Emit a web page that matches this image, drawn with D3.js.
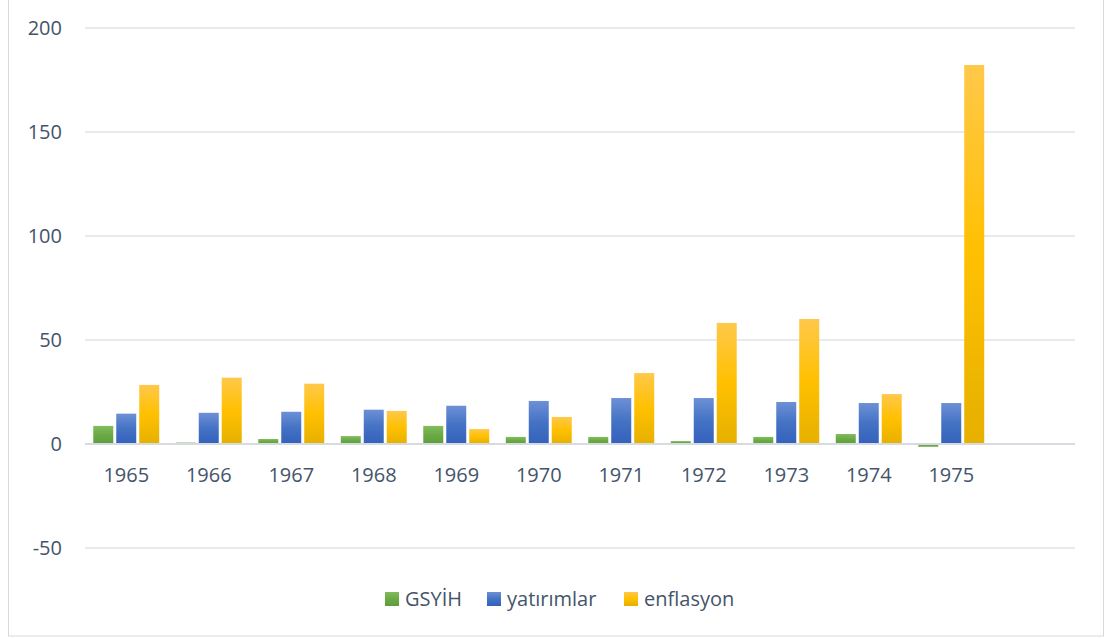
<!DOCTYPE html>
<html>
<head>
<meta charset="utf-8">
<script src="https://cdn.jsdelivr.net/npm/d3@7"></script>
<style>
  body { margin: 0; background: #fff; }
  text { font-family: "Open Sans", "Noto Sans", sans-serif; fill: #44546a; }
</style>
</head>
<body>
<svg id="chart" width="1105" height="638"></svg>
<script>
let years = ["1965", "1966", "1967", "1968", "1969", "1970", "1971", "1972", "1973", "1974", "1975", ""];
let seriesNames = ["GSYİH", "yatırımlar", "enflasyon"];
let gsyih = [8.7, 0.7, 2.4, 3.8, 8.7, 3.4, 3.4, 1.4, 3.4, 4.8, -1.3];
let yatirimlar = [14.6, 15.0, 15.5, 16.5, 18.4, 20.7, 22.1, 22.1, 20.2, 19.7, 19.7];
let enflasyon = [28.4, 31.9, 29.0, 15.9, 7.2, 13.0, 34.1, 58.2, 60.1, 24.0, 182.2];
let yTicks = [-50, 0, 50, 100, 150, 200];

let width = 1105;
let height = 638;
let colors = {
  "GSYİH": ["#82bd5c", "#6aaa45", "#5f9e3a"],
  "yatırımlar": ["#6d90d6", "#4472c4", "#3461bb"],
  "enflasyon": ["#ffc84a", "#ffc000", "#e6b000"]
};
let seriesData = [gsyih, yatirimlar, enflasyon];

let svg = d3.select("#chart");

// chart border
svg.append("rect")
   .attr("x", 8.5).attr("y", -5)
   .attr("width", 1095).attr("height", 641)
   .attr("fill", "#fff")
   .attr("stroke", "#d9d9d9");

let defs = svg.append("defs");
seriesNames.forEach(function(s, i){
  let g = defs.append("linearGradient")
              .attr("id", "grad" + i)
              .attr("x1", 0).attr("y1", 0).attr("x2", 0).attr("y2", 1);
  g.append("stop").attr("offset", "0%").attr("stop-color", colors[s][0]);
  g.append("stop").attr("offset", "50%").attr("stop-color", colors[s][1]);
  g.append("stop").attr("offset", "100%").attr("stop-color", colors[s][2]);
});

let x0 = d3.scaleBand().domain(years).range([85, 1075]);
let x1 = d3.scaleBand().domain(seriesNames).range([0, x0.bandwidth()])
           .paddingInner(0.13).paddingOuter(0.36);
let y = d3.scaleLinear().domain([-50, 200]).range([548, 28]);

// gridlines
svg.append("g")
   .selectAll("line")
   .data(yTicks.filter(d => d !== 0))
   .enter()
   .append("line")
   .attr("x1", 85).attr("x2", 1075)
   .attr("y1", d => y(d)).attr("y2", d => y(d))
   .attr("stroke", "#e1e4e9")
   .attr("stroke-width", 1.3);

// y labels
svg.append("g")
   .selectAll("text")
   .data(yTicks)
   .enter()
   .append("text")
   .attr("x", 62)
   .attr("y", d => y(d))
   .attr("dy", "0.35em")
   .attr("text-anchor", "end")
   .style("font-size", "20px")
   .text(d => d);

// bars
let bars = [];
years.forEach(function(yr, i){
  seriesNames.forEach(function(s, j){
    if (i < seriesData[j].length) bars.push({ year: yr, series: s, idx: j, value: seriesData[j][i] });
  });
});

svg.append("g")
   .selectAll("rect")
   .data(bars)
   .enter()
   .append("rect")
   .attr("x", d => x0(d.year) + x1(d.series))
   .attr("width", x1.bandwidth())
   .attr("y", d => y(Math.max(0, d.value)))
   .attr("height", d => Math.abs(y(d.value) - y(0)))
   .attr("fill", d => "url(#grad" + d.idx + ")");

// zero axis line
svg.append("line")
   .attr("x1", 85).attr("x2", 1075)
   .attr("y1", y(0)).attr("y2", y(0))
   .attr("stroke", "#d6dbe2")
   .attr("stroke-width", 2);

// x labels
svg.append("g")
   .selectAll("text")
   .data(years)
   .enter()
   .append("text")
   .attr("x", d => x0(d) + x0.bandwidth() / 2)
   .attr("y", 482)
   .attr("text-anchor", "middle")
   .style("font-size", "20px")
   .text(d => d);

// legend
let legendX = [385, 487, 624];
let legend = svg.append("g")
                .selectAll("g")
                .data(seriesNames)
                .enter()
                .append("g")
                .attr("transform", (d, i) => `translate(${legendX[i]},592)`);
legend.append("rect")
      .attr("width", 14).attr("height", 14)
      .attr("fill", (d, i) => "url(#grad" + i + ")");
legend.append("text")
      .attr("x", 20)
      .attr("y", 14)
      .style("font-size", "20px")
      .text(d => d);
</script>
</body>
</html>
